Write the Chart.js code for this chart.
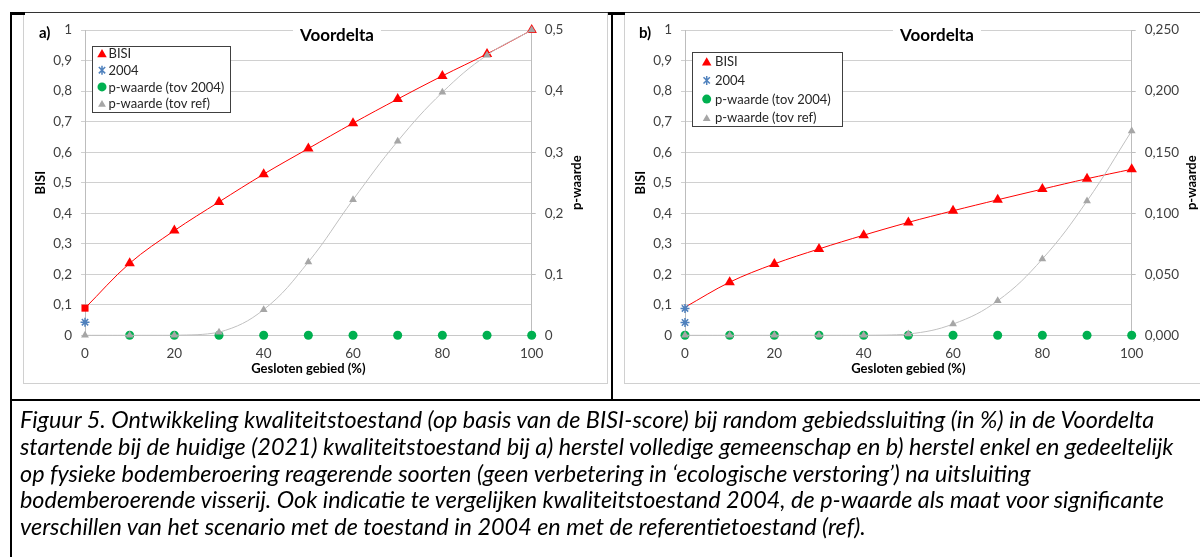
<!DOCTYPE html>
<html>
<head>
<meta charset="utf-8">
<script src="https://cdn.jsdelivr.net/npm/chart.js@4.4.0/dist/chart.umd.min.js"></script>
<style>
  body { margin: 0; width: 1200px; height: 557px; overflow: hidden; background: #fff; position: relative; font-family: Lato, sans-serif; }
  .ln { position: absolute; background: #000; }
  .frame { position: absolute; border: 1px solid #d0d0d0; box-sizing: border-box; }
  canvas { position: absolute; }
  .cap { position: absolute; left: 20px; white-space: nowrap; font-style: italic; color: #000; line-height: 1; }
</style>
</head>
<body>
<div class="frame" style="left:23px;top:12px;width:585px;height:372px"></div>
<div class="frame" style="left:624px;top:12px;width:590px;height:372px"></div>
<canvas id="chartA" width="582" height="370" style="left:25px;top:13px"></canvas>
<canvas id="chartB" width="582" height="370" style="left:625px;top:13px"></canvas>

<!-- table borders -->
<div class="ln" style="left:10px;top:12px;width:1190px;height:1.3px;background:#333"></div>
<div class="ln" style="left:10px;top:12px;width:15px;height:2.5px"></div>
<div class="ln" style="left:608px;top:12px;width:17px;height:2.5px"></div>
<div class="ln" style="left:10px;top:12px;width:2px;height:545px"></div>
<div class="ln" style="left:611px;top:12px;width:1.5px;height:389px"></div>
<div class="ln" style="left:10px;top:399px;width:1190px;height:2px"></div>

<div id="caption"></div>

<script>
// gesloten gebied (%)
const closedPct = [0, 10, 20, 30, 40, 50, 60, 70, 80, 90, 100];

// a) herstel volledige gemeenschap
const bisiA = [0.089, 0.236, 0.343, 0.437, 0.528, 0.612, 0.695, 0.774, 0.85, 0.922, 1.0];
const x2004A = [0];
const bisi2004A = [0.043];
const pVs2004A = [null, 0, 0, 0, 0, 0, 0, 0, 0, 0, 0];
const pVsRefA = [0, 0, 0, 0.005, 0.042, 0.12, 0.222, 0.318, 0.398, 0.459, 0.5];

// b) herstel enkel gevoelige soorten
const bisiB = [0.092, 0.174, 0.234, 0.283, 0.328, 0.37, 0.408, 0.444, 0.479, 0.513, 0.544];
const x2004B = [0, 0];
const bisi2004B = [0.088, 0.042];
const pVs2004B = [0, 0, 0, 0, 0, 0, 0, 0, 0, 0, 0];
const pVsRefB = [0, 0, 0, 0, 0, 0.001, 0.0092, 0.0283, 0.0625, 0.11, 0.1674];

const seriesLabels = ['BISI', '2004', 'p-waarde (tov 2004)', 'p-waarde (tov ref)'];
const leftTicks = [0, 0.1, 0.2, 0.3, 0.4, 0.5, 0.6, 0.7, 0.8, 0.9, 1];
const xTicks = [0, 20, 40, 60, 80, 100];

const captionLines = [
  'Figuur 5. Ontwikkeling kwaliteitstoestand (op basis van de BISI-score) bij random gebiedssluiting (in %) in de Voordelta',
  'startende bij de huidige (2021) kwaliteitstoestand bij a) herstel volledige gemeenschap en b) herstel enkel en gedeeltelijk',
  'op fysieke bodemberoering reagerende soorten (geen verbetering in \u2018ecologische verstoring\u2019) na uitsluiting',
  'bodemberoerende visserij. Ook indicatie te vergelijken kwaliteitstoestand 2004, de p-waarde als maat voor significante',
  'verschillen van het scenario met de toestand in 2004 en met de referentietoestand (ref).'
];

const RED = '#ff0000', BLUE = '#4f81bd', GREEN = '#00b050', GREY = '#a6a6a6', GREYLINE = '#c0c0c0';
const FONT = 'Lato, sans-serif';

function pts(xs, ys) {
  return xs.map((x, i) => ({ x: x, y: ys[i] })).filter(p => p.y !== null);
}

function comma(v, digits) {
  return v.toFixed(digits).replace('.', ',');
}

// eigen markers voor de legenda
function drawMark(ctx, style, x, y, r, color) {
  ctx.save();
  ctx.fillStyle = color;
  ctx.strokeStyle = color;
  ctx.beginPath();
  if (style === 'triangle') {
    ctx.moveTo(x, y - r);
    ctx.lineTo(x + 0.866 * r, y + 0.5 * r);
    ctx.lineTo(x - 0.866 * r, y + 0.5 * r);
    ctx.closePath();
    ctx.fill();
  } else if (style === 'circle') {
    ctx.arc(x, y, r, 0, Math.PI * 2);
    ctx.fill();
  } else if (style === 'star') {
    ctx.lineWidth = 1.5;
    const d = r * 0.707;
    ctx.moveTo(x - d, y - d); ctx.lineTo(x + d, y + d);
    ctx.moveTo(x + d, y - d); ctx.lineTo(x - d, y + d);
    ctx.moveTo(x, y - r); ctx.lineTo(x, y + r);
    ctx.stroke();
  }
  ctx.restore();
}

const legendMarks = [
  { style: 'triangle', r: 5.5, color: RED },
  { style: 'star', r: 4.5, color: BLUE },
  { style: 'circle', r: 4.5, color: GREEN },
  { style: 'triangle', r: 4.5, color: GREY }
];

const overlay = {
  id: 'overlay',
  afterDraw(chart, args, o) {
    const ctx = chart.ctx;
    const area = chart.chartArea;
    ctx.save();

    // titel met witte achtergrond
    ctx.font = 'bold 17px ' + FONT;
    const tw = ctx.measureText('Voordelta').width;
    ctx.fillStyle = '#fff';
    ctx.fillRect(268, 9, tw + 14, 26);
    ctx.fillStyle = '#000';
    ctx.textBaseline = 'middle';
    ctx.fillText('Voordelta', 275, 23);

    ctx.font = 'bold 15px ' + FONT;
    ctx.fillText(o.tag, 14, 20.5);

    // rechter as titel
    ctx.font = 'bold 13px ' + FONT;
    ctx.translate(o.rightTitleX, (area.top + area.bottom) / 2);
    ctx.rotate(-Math.PI / 2);
    ctx.textAlign = 'center';
    ctx.fillText('p-waarde', 0, 0);
    ctx.setTransform(1, 0, 0, 1, 0, 0);

    // legenda
    const L = o.legend;
    ctx.fillStyle = '#fff';
    ctx.fillRect(L.x, L.y, L.w, L.h);
    ctx.strokeStyle = '#404040';
    ctx.lineWidth = 1;
    ctx.strokeRect(L.x + 0.5, L.y + 0.5, L.w, L.h);
    ctx.font = '13px ' + FONT;
    ctx.textAlign = 'left';
    seriesLabels.forEach((lab, i) => {
      const y = L.row0 + i * L.gap;
      const m = legendMarks[i];
      drawMark(ctx, m.style, L.markX, y + (m.style === 'triangle' ? 1 : 0), m.r, m.color);
      ctx.fillStyle = '#262626';
      ctx.fillText(lab, L.textX, y + 0.5);
    });
    ctx.restore();
  }
};

function makeChart(id, d) {
  const ctx = document.getElementById(id).getContext('2d');
  return new Chart(ctx, {
    type: 'line',
    data: {
      datasets: [
        {
          label: seriesLabels[0], yAxisID: 'y',
          data: pts(closedPct, d.bisi),
          borderColor: RED, backgroundColor: RED, borderWidth: 1,
          pointStyle: d.bisiStyles, pointRadius: d.bisiRadius, pointBorderWidth: 0,
          tension: 0.35, clip: false, order: 3
        },
        {
          label: seriesLabels[1], yAxisID: 'y',
          data: pts(d.x2004, d.y2004),
          showLine: false, borderColor: BLUE, backgroundColor: BLUE,
          pointStyle: 'star', pointRadius: 4.5, pointBorderWidth: 1.5, clip: false, order: 2
        },
        {
          label: seriesLabels[2], yAxisID: 'y2',
          data: pts(closedPct, d.p2004),
          showLine: false, borderColor: GREEN, backgroundColor: GREEN,
          pointStyle: 'circle', pointRadius: 4.5, pointBorderWidth: 0, clip: false, order: 1
        },
        {
          label: seriesLabels[3], yAxisID: 'y2',
          data: pts(closedPct, d.pRef),
          borderColor: GREYLINE, borderWidth: 1, backgroundColor: GREY,
          pointBackgroundColor: GREY, pointBorderWidth: 0,
          pointStyle: 'triangle', pointRadius: 4.5, tension: 0.4, clip: false, order: 0
        }
      ]
    },
    options: {
      responsive: false,
      animation: false,
      layout: { padding: { top: 13, left: 0, right: 0, bottom: 0 } },
      plugins: {
        legend: { display: false },
        tooltip: { enabled: false },
        overlay: d.overlay
      },
      scales: {
        x: {
          type: 'linear', min: 0, max: 100,
          afterFit: s => { s.height = 47.7; },
          afterBuildTicks: s => { s.ticks = xTicks.map(v => ({ value: v })); },
          grid: { display: false, drawTicks: false },
          border: { display: true, color: '#c8c8c8' },
          ticks: { padding: 10.5, color: '#404040', font: { family: FONT, size: 13.5 }, maxRotation: 0 },
          title: { display: true, text: 'Gesloten gebied (%)', color: '#000', padding: { top: 0, bottom: 6 }, font: { family: FONT, size: 13, weight: 'bold' } }
        },
        y: {
          position: 'left', min: 0, max: 1,
          afterFit: s => { s.width = 60; },
          afterBuildTicks: s => { s.ticks = leftTicks.map(v => ({ value: v })); },
          grid: { color: '#d0d0d0', tickLength: 4, drawTicks: true },
          border: { display: true, color: '#bdbdbd' },
          ticks: {
            padding: 9, color: '#404040', font: { family: FONT, size: 13.5 },
            callback: v => (v === 0 || v === 1) ? String(v) : comma(v, 1)
          },
          title: { display: true, text: 'BISI', color: '#000', padding: { top: 8.5, bottom: 0 }, font: { family: FONT, size: 13, weight: 'bold' } }
        },
        y2: {
          position: 'right', min: 0, max: d.rightMax,
          afterFit: s => { s.width = 75.3; },
          afterBuildTicks: s => { s.ticks = d.rightTicks.map(v => ({ value: v })); },
          grid: { drawOnChartArea: false, drawTicks: true, tickLength: 4, color: '#bdbdbd' },
          border: { display: true, color: '#bdbdbd' },
          ticks: {
            padding: 9, color: '#404040', font: { family: FONT, size: 13.5 },
            callback: v => d.rightFmt(v)
          }
        }
      }
    },
    plugins: [overlay]
  });
}

makeChart('chartA', {
  bisi: bisiA,
  bisiStyles: ['rect', 'triangle', 'triangle', 'triangle', 'triangle', 'triangle', 'triangle', 'triangle', 'triangle', 'triangle', 'triangle'],
  bisiRadius: [5, 6, 6, 6, 6, 6, 6, 6, 6, 6, 6],
  x2004: x2004A, y2004: bisi2004A,
  p2004: pVs2004A, pRef: pVsRefA,
  rightMax: 0.5,
  rightTicks: [0, 0.1, 0.2, 0.3, 0.4, 0.5],
  rightFmt: v => v === 0 ? '0' : comma(v, 1),
  overlay: {
    tag: 'a)', rightTitleX: 552,
    legend: { x: 67, y: 33, w: 138, h: 66, row0: 40.5, gap: 16.7, markX: 77, textX: 83.5 }
  }
});

makeChart('chartB', {
  bisi: bisiB,
  bisiStyles: 'triangle',
  bisiRadius: [0, 6, 6, 6, 6, 6, 6, 6, 6, 6, 6],
  x2004: x2004B, y2004: bisi2004B,
  p2004: pVs2004B, pRef: pVsRefB,
  rightMax: 0.25,
  rightTicks: [0, 0.05, 0.1, 0.15, 0.2, 0.25],
  rightFmt: v => comma(v, 3),
  overlay: {
    tag: 'b)', rightTitleX: 567,
    legend: { x: 67, y: 39, w: 150, h: 74, row0: 48.7, gap: 18.7, markX: 81.7, textX: 90 }
  }
});

// bijschrift, lettergrootte passend op de breedte van regel 1
const cap = document.getElementById('caption');
const lineCenters = [420, 447, 473.5, 500, 526.5];
let size = 20;
captionLines.forEach(t => {
  const div = document.createElement('div');
  div.className = 'cap';
  div.textContent = t;
  cap.appendChild(div);
});
const first = cap.children[0];
first.style.fontSize = size + 'px';
size = size * 1135 / first.getBoundingClientRect().width;
Array.from(cap.children).forEach((div, i) => {
  div.style.fontSize = size + 'px';
  div.style.top = (lineCenters[i] - size / 2) + 'px';
});
</script>
</body>
</html>
